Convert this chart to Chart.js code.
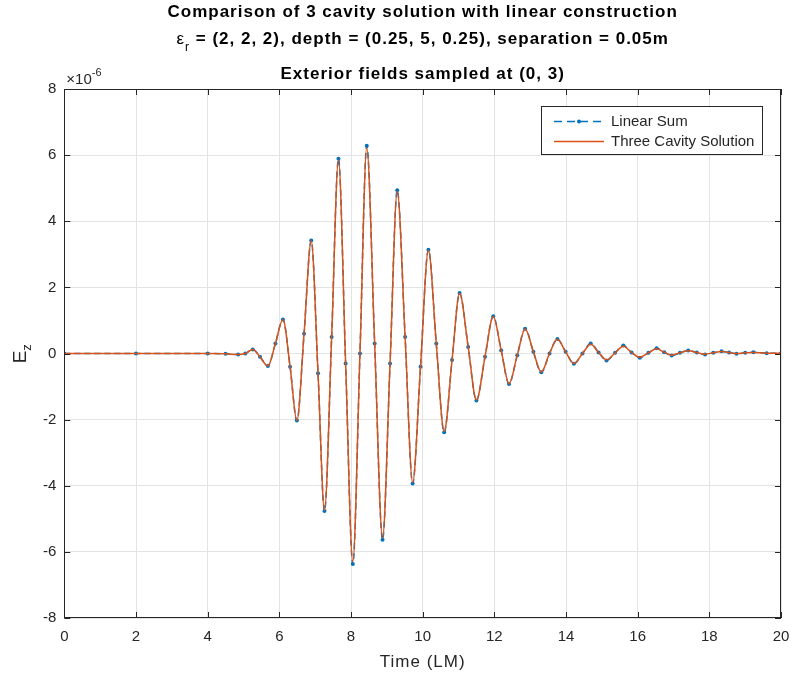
<!DOCTYPE html>
<html>
<head>
<meta charset="utf-8">
<script src="https://cdn.jsdelivr.net/npm/chart.js@4"></script>
<style>
    html, body { margin: 0; padding: 0; background: #fff; }
</style>
</head>
<body>
<canvas id="fieldChart" width="793" height="678"></canvas>
<script>
const timeLM = [0, 2, 4, 4.5, 4.85, 5.05, 5.26, 5.46, 5.68, 5.89, 6.10, 6.30, 6.49, 6.69, 6.89, 7.08, 7.26, 7.46, 7.65, 7.85,
    8.05, 8.25, 8.44, 8.66, 8.88, 9.09, 9.29, 9.51, 9.72, 9.94, 10.16, 10.38, 10.60, 10.82, 11.03, 11.27, 11.50, 11.74, 11.97, 12.19,
    12.41, 12.64, 12.86, 13.09, 13.31, 13.54, 13.76, 13.99, 14.22, 14.46, 14.69, 14.91, 15.13, 15.37, 15.60, 15.83, 16.06, 16.30, 16.53, 16.74,
    16.95, 17.18, 17.41, 17.65, 17.88, 18.11, 18.34, 18.55, 18.76, 19.0, 19.23, 19.6, 20];

const linearSum = [0, 0, 0, -0.01, -0.03, 0, 0.12, -0.1, -0.38, 0.3, 1.03, -0.4, -2.03, 0.6, 3.42, -0.6, -4.76, 0.5, 5.89, -0.3,
    -6.37, 0, 6.28, 0.3, -5.63, -0.3, 4.94, 0.5, -3.93, -0.4, 3.14, 0.3, -2.38, -0.2, 1.83, 0.2, -1.42, -0.1, 1.13, 0.1,
    -0.92, -0.05, 0.75, 0.05, -0.57, 0, 0.44, 0.05, -0.31, 0, 0.30, 0.03, -0.21, 0.02, 0.24, 0.03, -0.13, 0.02, 0.16, 0.04,
    -0.06, 0.02, 0.09, 0.03, -0.03, 0.02, 0.07, 0.03, -0.01, 0.02, 0.04, 0.01, 0.01];

const threeCavity = [0, 0, 0, -0.01, -0.03, 0, 0.12, -0.1, -0.38, 0.3, 1.03, -0.4, -2.03, 0.6, 3.40, -0.6, -4.74, 0.5, 5.85, -0.3,
    -6.30, 0, 6.22, 0.3, -5.58, -0.3, 4.90, 0.5, -3.90, -0.4, 3.12, 0.3, -2.36, -0.2, 1.82, 0.2, -1.41, -0.1, 1.12, 0.1,
    -0.91, -0.05, 0.74, 0.05, -0.56, 0, 0.43, 0.05, -0.30, 0, 0.28, 0.03, -0.19, 0.02, 0.22, 0.03, -0.11, 0.02, 0.14, 0.04,
    -0.05, 0.02, 0.08, 0.03, -0.02, 0.02, 0.06, 0.03, 0, 0.02, 0.03, 0.01, 0.01];

const xTicks = [0, 2, 4, 6, 8, 10, 12, 14, 16, 18, 20];
const yTicks = [-8, -6, -4, -2, 0, 2, 4, 6, 8];

const BLUE = '#0072BD';
const ORANGE = '#D95319';
const AXIS = '#262626';
const FONT = '"Liberation Sans", Arial, Helvetica, sans-serif';

function toPoints(xs, ys) {
    return xs.map((x, i) => ({ x: x, y: ys[i] }));
}

function spaced(ctx, px) {
    if ('letterSpacing' in ctx) ctx.letterSpacing = px + 'px';
}

// MATLAB style decorations: box, inward ticks, titles, axis labels, legend
const matlabDecor = {
    id: 'matlabDecor',
    afterDraw(chart) {
        const ctx = chart.ctx;
        const area = chart.chartArea;
        const xs = chart.scales.x;
        const ys = chart.scales.y;
        const cx = (area.left + area.right) / 2;

        ctx.save();
        ctx.strokeStyle = AXIS;
        ctx.lineWidth = 1;
        ctx.beginPath();
        xTicks.forEach(v => {
            const px = Math.round(xs.getPixelForValue(v)) + 0.5;
            ctx.moveTo(px, area.bottom); ctx.lineTo(px, area.bottom - 6);
            ctx.moveTo(px, area.top); ctx.lineTo(px, area.top + 6);
        });
        yTicks.forEach(v => {
            const py = Math.round(ys.getPixelForValue(v)) + 0.5;
            ctx.moveTo(area.left, py); ctx.lineTo(area.left + 6, py);
            ctx.moveTo(area.right, py); ctx.lineTo(area.right - 6, py);
        });
        ctx.stroke();
        ctx.strokeRect(Math.round(area.left) + 0.5, Math.round(area.top) + 0.5,
            Math.round(area.right - area.left) - 1, Math.round(area.bottom - area.top) - 1);

        // exponent label
        ctx.fillStyle = AXIS;
        ctx.textBaseline = 'alphabetic';
        ctx.textAlign = 'left';
        ctx.font = '15px ' + FONT;
        ctx.fillText('\u00d710', area.left + 2, area.top - 5);
        const w10 = ctx.measureText('\u00d710').width;
        ctx.font = '11px ' + FONT;
        ctx.fillText('-6', area.left + 2 + w10, area.top - 13);

        // titles
        ctx.fillStyle = '#000';
        spaced(ctx, 1);
        ctx.textAlign = 'center';
        ctx.font = 'bold 17px ' + FONT;
        ctx.fillText('Comparison of 3 cavity solution with linear construction', cx, 17);

        const rest = ' = (2, 2, 2), depth = (0.25, 5, 0.25), separation = 0.05m';
        ctx.font = 'bold 17px ' + FONT;
        const wRest = ctx.measureText(rest).width;
        ctx.font = '17px ' + FONT;
        const wEps = ctx.measureText('\u03b5').width;
        ctx.font = '12px ' + FONT;
        const wSub = ctx.measureText('r').width;
        let x0 = cx - (wEps + wSub + wRest) / 2;
        ctx.textAlign = 'left';
        ctx.font = '17px ' + FONT;
        ctx.fillText('\u03b5', x0, 44);
        ctx.font = '12px ' + FONT;
        ctx.fillText('r', x0 + wEps, 51);
        ctx.font = 'bold 17px ' + FONT;
        ctx.fillText(rest, x0 + wEps + wSub, 44);

        ctx.textAlign = 'center';
        ctx.font = 'bold 17px ' + FONT;
        ctx.fillText('Exterior fields sampled at (0, 3)', cx, 79);

        // axis titles
        ctx.fillStyle = AXIS;
        ctx.font = '17px ' + FONT;
        ctx.fillText('Time (LM)', cx, 667);
        spaced(ctx, 0);
        ctx.save();
        ctx.translate(26, (area.top + area.bottom) / 2);
        ctx.rotate(-Math.PI / 2);
        ctx.textAlign = 'left';
        ctx.font = '19px ' + FONT;
        const wE = ctx.measureText('E').width;
        ctx.fillText('E', -(wE + 7) / 2, 0);
        ctx.font = '13px ' + FONT;
        ctx.fillText('z', -(wE + 7) / 2 + wE, 5);
        ctx.restore();

        // legend
        const lx = 541, ly = 106, lw = 221, lh = 48;
        ctx.fillStyle = '#fff';
        ctx.fillRect(lx, ly, lw, lh);
        ctx.strokeStyle = AXIS;
        ctx.strokeRect(lx + 0.5, ly + 0.5, lw, lh);
        const rows = [
            { label: 'Linear Sum', color: BLUE, dash: [8, 5], marker: true, y: ly + 15 },
            { label: 'Three Cavity Solution', color: ORANGE, dash: [], marker: false, y: ly + 35 }
        ];
        rows.forEach(r => {
            ctx.strokeStyle = r.color;
            ctx.lineWidth = 1.5;
            ctx.setLineDash(r.dash);
            ctx.beginPath();
            ctx.moveTo(lx + 13, r.y + 0.5);
            ctx.lineTo(lx + 63, r.y + 0.5);
            ctx.stroke();
            ctx.setLineDash([]);
            if (r.marker) {
                ctx.fillStyle = r.color;
                ctx.beginPath();
                ctx.arc(lx + 38, r.y + 0.5, 2, 0, Math.PI * 2);
                ctx.fill();
            }
            ctx.fillStyle = AXIS;
            ctx.font = '15px ' + FONT;
            ctx.textAlign = 'left';
            ctx.textBaseline = 'middle';
            ctx.fillText(r.label, lx + 70, r.y + 1);
        });
        ctx.restore();
    }
};

const ctx = document.getElementById('fieldChart').getContext('2d');
new Chart(ctx, {
    type: 'line',
    data: {
        datasets: [
            {
                label: 'Linear Sum',
                data: toPoints(timeLM, linearSum),
                borderColor: BLUE,
                backgroundColor: BLUE,
                borderWidth: 1.5,
                borderDash: [6, 4],
                pointRadius: 2,
                pointBorderWidth: 0,
                pointBackgroundColor: BLUE,
                cubicInterpolationMode: 'monotone',
                order: 2
            },
            {
                label: 'Three Cavity Solution',
                data: toPoints(timeLM, threeCavity),
                borderColor: ORANGE,
                borderWidth: 1.5,
                pointRadius: 0,
                cubicInterpolationMode: 'monotone',
                order: 1
            }
        ]
    },
    options: {
        responsive: false,
        animation: false,
        devicePixelRatio: 1,
        layout: { padding: { top: 89, left: 35, right: 12, bottom: 22 } },
        plugins: {
            legend: { display: false },
            title: { display: false },
            tooltip: { enabled: false }
        },
        scales: {
            x: {
                type: 'linear',
                min: 0,
                max: 20,
                afterBuildTicks: axis => { axis.ticks = xTicks.map(v => ({ value: v })); },
                afterFit: axis => { axis.paddingLeft = 0; axis.paddingRight = 0; },
                ticks: { color: AXIS, font: { family: FONT, size: 15 }, padding: 10, maxRotation: 0 },
                grid: { color: '#e3e3e3', drawTicks: false },
                border: { display: false }
            },
            y: {
                min: -8,
                max: 8,
                afterBuildTicks: axis => { axis.ticks = yTicks.map(v => ({ value: v })); },
                afterFit: axis => { axis.paddingTop = 0; axis.paddingBottom = 0; },
                ticks: { color: AXIS, font: { family: FONT, size: 15 }, padding: 8 },
                grid: { color: '#e3e3e3', drawTicks: false },
                border: { display: false }
            }
        }
    },
    plugins: [matlabDecor]
});
</script>
</body>
</html>
